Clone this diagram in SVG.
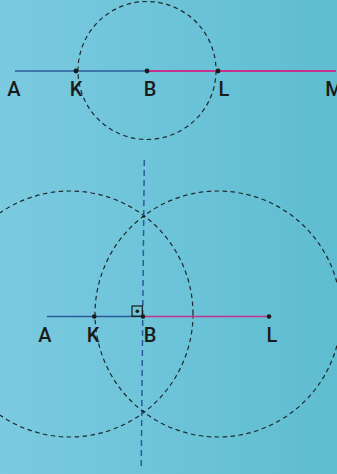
<svg xmlns="http://www.w3.org/2000/svg" width="337" height="474" viewBox="0 0 337 474">
<defs>
<linearGradient id="bg" x1="0" y1="0" x2="1" y2="0">
<stop offset="0" stop-color="#7bcae0"/>
<stop offset="1" stop-color="#5ebdcf"/>
</linearGradient>
</defs>
<style>
.arc{fill:none;stroke:#1e2a30;stroke-width:1.2;stroke-dasharray:4.5 3.5}
.blue{stroke:#2b5b9c;stroke-width:1.6;fill:none}
.mag{stroke:#c5318f;stroke-width:1.8;fill:none}
.pt{fill:#1a1a1a}
.lbl{font-family:Roboto,"DejaVu Sans",sans-serif;font-weight:500;font-size:20px;fill:#1a1a1a;text-anchor:middle}
</style>
<rect width="337" height="474" fill="url(#bg)"/>
<g id="connectors">
<circle class="arc" cx="147" cy="70.5" r="69"/>
<line class="blue" x1="15" y1="71" x2="147" y2="71"/>
<line class="mag" x1="147" y1="71" x2="336" y2="71"/>
<circle class="arc" cx="70" cy="314" r="123"/>
<circle class="arc" cx="218" cy="314" r="123"/>
<line x1="144.3" y1="160" x2="141.2" y2="468" stroke="#2b5b9c" stroke-width="1.5" stroke-dasharray="6 4"/>
<line class="blue" x1="47" y1="316.5" x2="143" y2="316.5"/>
<line class="mag" x1="143" y1="316.5" x2="269" y2="316.5" style="stroke-width:1.4"/>
<rect x="132" y="306" width="10.3" height="10.3" fill="none" stroke="#1a1a1a" stroke-width="1.2"/>
<circle class="pt" cx="137.3" cy="311.3" r="1.8"/>
<circle class="pt" cx="143.8" cy="216.5" r="1.3"/>
<circle class="pt" cx="142.8" cy="411" r="1.1"/>
</g>
<g id="A1"><text class="lbl" x="14" y="96">A</text></g>
<g id="K1"><circle class="pt" cx="76" cy="71" r="2.4"/><text class="lbl" x="76" y="96">K</text></g>
<g id="B1"><circle class="pt" cx="147" cy="71" r="2.4"/><text class="lbl" x="150" y="96">B</text></g>
<g id="L1"><circle class="pt" cx="218" cy="71" r="2.4"/><text class="lbl" x="224" y="96">L</text></g>
<g id="M1"><text class="lbl" x="334" y="96">M</text></g>
<g id="A2"><text class="lbl" x="45" y="342">A</text></g>
<g id="K2"><circle class="pt" cx="94.3" cy="316.5" r="2.3"/><text class="lbl" x="93" y="342">K</text></g>
<g id="B2"><circle class="pt" cx="143" cy="316.5" r="2.3"/><text class="lbl" x="150" y="342">B</text></g>
<g id="L2"><circle class="pt" cx="269" cy="316.5" r="2.3"/><text class="lbl" x="272" y="342">L</text></g>
</svg>
